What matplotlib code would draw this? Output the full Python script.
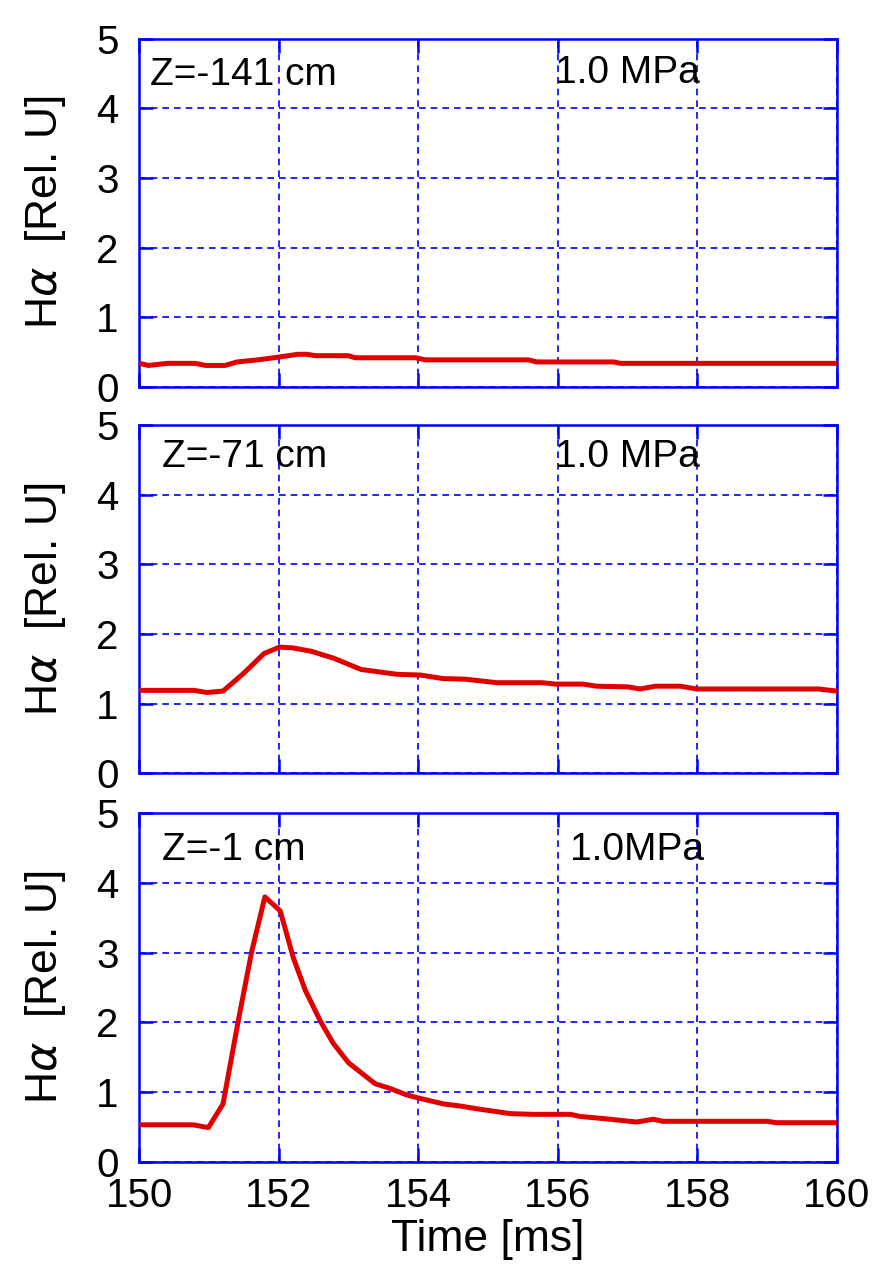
import matplotlib
matplotlib.use("Agg")
import matplotlib.pyplot as plt

plt.rcParams["font.family"] = ["Liberation Sans", "DejaVu Sans"]

# time [ms] and H-alpha [rel. units]
t_top = [150.0, 150.13, 150.4, 150.8, 150.95, 151.23, 151.4, 151.7, 152.0, 152.27,
         152.4, 152.53, 152.99, 153.1, 153.96, 154.1, 155.58, 155.7, 156.8, 156.9, 160.0]
h_top = [0.34, 0.31, 0.34, 0.34, 0.31, 0.31, 0.36, 0.39, 0.43, 0.47,
         0.47, 0.45, 0.45, 0.42, 0.42, 0.39, 0.39, 0.36, 0.36, 0.34, 0.34]

t_mid = [150.0, 150.78, 150.97, 151.2, 151.49, 151.79, 152.01, 152.2, 152.47, 152.79,
         153.18, 153.7, 154.03, 154.35, 154.68, 155.13, 155.78, 155.97, 156.36, 156.56,
         157.01, 157.18, 157.4, 157.76, 157.99, 159.74, 160.0]
h_mid = [1.19, 1.19, 1.16, 1.18, 1.43, 1.72, 1.81, 1.80, 1.75, 1.65,
         1.49, 1.42, 1.41, 1.36, 1.35, 1.30, 1.30, 1.28, 1.28, 1.25,
         1.24, 1.21, 1.25, 1.25, 1.21, 1.21, 1.18]

t_bot = [150.0, 150.77, 150.99, 151.2, 151.42, 151.61, 151.8, 152.02, 152.21, 152.38,
         152.6, 152.78, 153.0, 153.38, 153.6, 153.83, 154.02, 154.36, 154.6, 154.84,
         155.32, 155.65, 156.18, 156.32, 156.65, 156.75, 157.13, 157.37, 157.51, 159.0,
         159.14, 160.0]
h_bot = [0.53, 0.53, 0.49, 0.83, 2.03, 3.01, 3.80, 3.60, 2.92, 2.46,
         2.01, 1.70, 1.42, 1.12, 1.05, 0.96, 0.91, 0.83, 0.80, 0.76,
         0.69, 0.68, 0.68, 0.65, 0.62, 0.61, 0.57, 0.61, 0.58, 0.58,
         0.56, 0.56]

positions = ["Z=-141 cm", "Z=-71 cm", "Z=-1 cm"]
pressures = ["1.0 MPa", "1.0 MPa", "1.0MPa"]
x_ticks = [150, 152, 154, 156, 158, 160]
y_ticks = [0, 1, 2, 3, 4, 5]

series = [(t_top, h_top), (t_mid, h_mid), (t_bot, h_bot)]
boxes = [0.6938, 0.3882, 0.0809]
text_pos = [((0.015, 0.895), (0.596, 0.90)),
            ((0.033, 0.908), (0.596, 0.908)),
            ((0.033, 0.895), (0.617, 0.895))]

blue = "#0000ff"
fig = plt.figure(figsize=(8.83, 12.64), dpi=100)

for i in range(3):
    ax = fig.add_axes([0.1578, boxes[i], 0.7898, 0.2757])
    t, h = series[i]
    ax.plot(t, h, color="#e00000", linewidth=3.6, zorder=3)
    ax.set_xlim(150, 160)
    ax.set_ylim(0, 5)
    ax.set_xticks(x_ticks)
    ax.set_yticks(y_ticks)
    ax.grid(True, color=blue, linestyle=(0, (4, 3)), linewidth=1.2)
    for s in ax.spines.values():
        s.set_color(blue)
        s.set_linewidth(1.8)
    ax.tick_params(direction="in", length=10, width=1.8, color=blue,
                   top=True, right=True, labelsize=29)
    ax.tick_params(axis="y", pad=15)
    ax.tick_params(axis="x", pad=11)
    if i < 2:
        ax.tick_params(labelbottom=False)
    ax.set_ylabel(r"H$\alpha$  [Rel. U]", fontsize=32)
    ax.yaxis.set_label_coords(-0.103, 0.5)
    (x1, y1), (x2, y2) = text_pos[i]
    ax.text(x1, y1, positions[i], transform=ax.transAxes, fontsize=28, va="center")
    ax.text(x2, y2, pressures[i], transform=ax.transAxes, fontsize=28, va="center")
    if i == 2:
        ax.set_xlabel("Time [ms]", fontsize=32)
        ax.xaxis.label.set_verticalalignment("baseline")
        ax.xaxis.set_label_coords(0.5, -0.256)

fig.savefig("out.png", dpi=100)
